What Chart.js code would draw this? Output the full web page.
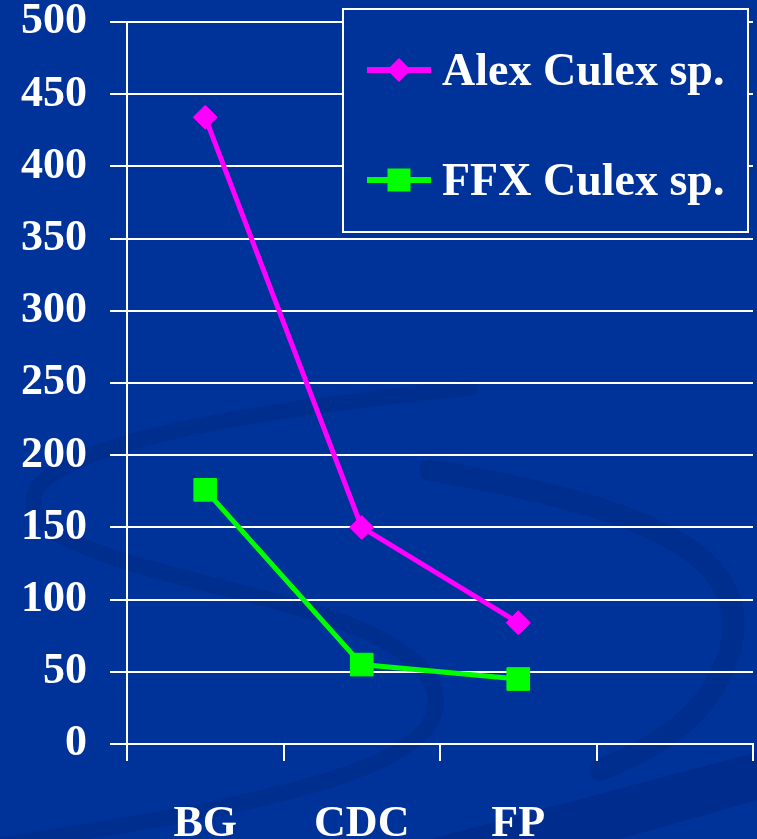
<!DOCTYPE html>
<html>
<head>
<meta charset="utf-8">
<script src="https://cdn.jsdelivr.net/npm/chart.js@4/dist/chart.umd.min.js"></script>
<style>
  html, body { margin: 0; padding: 0; background: #003399; }
  #wrap { width: 757px; height: 839px; position: relative; }
</style>
</head>
<body>
<div id="wrap"><canvas id="c" width="757" height="839"></canvas></div>
<script>
// ---- data ----
const categories = ['BG', 'CDC', 'FP', ''];
const seriesNames = ['Alex Culex sp.', 'FFX Culex sp.'];
const alexCulex = [434, 150, 84, null];
const ffxCulex = [176, 55, 45, null];
const yMin = 0, yMax = 500, yStep = 50;

// ---- style ----
const BG = '#003399';
const WHITE = '#ffffff';
const MAGENTA = '#ff00ff';
const GREEN = '#00ff00';
const FONT = { family: "'Liberation Serif', 'Times New Roman', serif", size: 44, weight: 'bold', lineHeight: 1 };

const backgroundPlugin = {
  id: 'bgSwirl',
  beforeDraw(chart) {
    const ctx = chart.ctx;
    ctx.save();
    ctx.fillStyle = BG;
    ctx.fillRect(0, 0, chart.width, chart.height);
    ctx.strokeStyle = 'rgba(0, 25, 100, 0.18)';
    ctx.lineCap = 'round';
    // left swirl
    ctx.lineWidth = 16;
    ctx.beginPath();
    ctx.moveTo(470, 388);
    ctx.bezierCurveTo(150, 420, -40, 470, 60, 535);
    ctx.bezierCurveTo(160, 590, 380, 600, 430, 680);
    ctx.bezierCurveTo(470, 760, 300, 800, 0, 845);
    ctx.stroke();
    // right swirl
    ctx.lineWidth = 22;
    ctx.beginPath();
    ctx.moveTo(430, 470);
    ctx.bezierCurveTo(600, 500, 760, 540, 730, 650);
    ctx.bezierCurveTo(710, 720, 650, 750, 600, 770);
    ctx.stroke();
    // bottom-right band
    ctx.fillStyle = 'rgba(0, 25, 100, 0.22)';
    ctx.beginPath();
    ctx.moveTo(430, 839);
    ctx.lineTo(757, 752);
    ctx.lineTo(757, 800);
    ctx.lineTo(620, 839);
    ctx.closePath();
    ctx.fill();
    ctx.restore();
  }
};

const legendPlugin = {
  id: 'boxLegend',
  afterDraw(chart) {
    const ctx = chart.ctx;
    const box = { x: 343, y: 9, w: 405, h: 223 };
    ctx.save();
    ctx.fillStyle = BG;
    ctx.fillRect(box.x, box.y, box.w, box.h);
    ctx.strokeStyle = WHITE;
    ctx.lineWidth = 2;
    ctx.strokeRect(box.x, box.y, box.w, box.h);
    const rows = [70, 180];
    chart.data.datasets.forEach((ds, i) => {
      const y = rows[i];
      ctx.strokeStyle = ds.borderColor;
      ctx.lineWidth = 6;
      ctx.beginPath();
      ctx.moveTo(367, y);
      ctx.lineTo(431, y);
      ctx.stroke();
      ctx.fillStyle = ds.pointBackgroundColor;
      ctx.beginPath();
      if (ds.pointStyle === 'rect') {
        ctx.rect(399 - 11.5, y - 11.5, 23, 23);
      } else {
        ctx.moveTo(399 - 12, y); ctx.lineTo(399, y - 12); ctx.lineTo(399 + 12, y); ctx.lineTo(399, y + 12); ctx.closePath();
      }
      ctx.fill();
      ctx.fillStyle = WHITE;
      ctx.font = "bold 46px 'Liberation Serif', 'Times New Roman', serif";
      ctx.textAlign = 'left';
      ctx.textBaseline = 'alphabetic';
      ctx.fillText(ds.label, 442, y + 15);
    });
    ctx.restore();
  }
};

new Chart(document.getElementById('c'), {
  type: 'line',
  data: {
    labels: categories,
    datasets: [
      {
        label: seriesNames[0],
        data: alexCulex,
        borderColor: MAGENTA,
        backgroundColor: MAGENTA,
        pointBackgroundColor: MAGENTA,
        pointBorderColor: MAGENTA,
        borderWidth: 5,
        pointStyle: 'rectRot',
        pointRadius: 12,
        pointBorderWidth: 1,
        tension: 0
      },
      {
        label: seriesNames[1],
        data: ffxCulex,
        borderColor: GREEN,
        backgroundColor: GREEN,
        pointBackgroundColor: GREEN,
        pointBorderColor: GREEN,
        borderWidth: 5,
        pointStyle: 'rect',
        pointRadius: 16,
        pointBorderWidth: 1,
        tension: 0
      }
    ]
  },
  options: {
    responsive: false,
    animation: false,
    devicePixelRatio: 1,
    layout: { autoPadding: false, padding: { left: 0, right: 4, top: 0, bottom: 0 } },
    plugins: {
      legend: { display: false },
      tooltip: { enabled: false }
    },
    scales: {
      x: {
        offset: true,
        grid: {
          offset: true,
          drawOnChartArea: true,
          color: (c) => (c.index === 0 || c.index === categories.length) ? WHITE : 'rgba(0,0,0,0)',
          tickColor: WHITE,
          lineWidth: 2,
          tickLength: 17
        },
        border: { display: true, color: WHITE, width: 2 },
        ticks: { color: WHITE, font: FONT, padding: 42, maxRotation: 0, autoSkip: false },
        afterFit(scale) { scale.height = 95; scale.paddingLeft = 0; scale.paddingRight = 0; }
      },
      y: {
        min: yMin,
        max: yMax,
        grid: { color: WHITE, lineWidth: 2, tickLength: 17 },
        border: { display: true, color: WHITE, width: 2 },
        ticks: { stepSize: yStep, color: WHITE, font: FONT, padding: 23 },
        afterFit(scale) { scale.width = 127; scale.paddingTop = 22; scale.paddingBottom = 0; }
      }
    }
  },
  plugins: [backgroundPlugin, legendPlugin]
});
</script>
</body>
</html>
